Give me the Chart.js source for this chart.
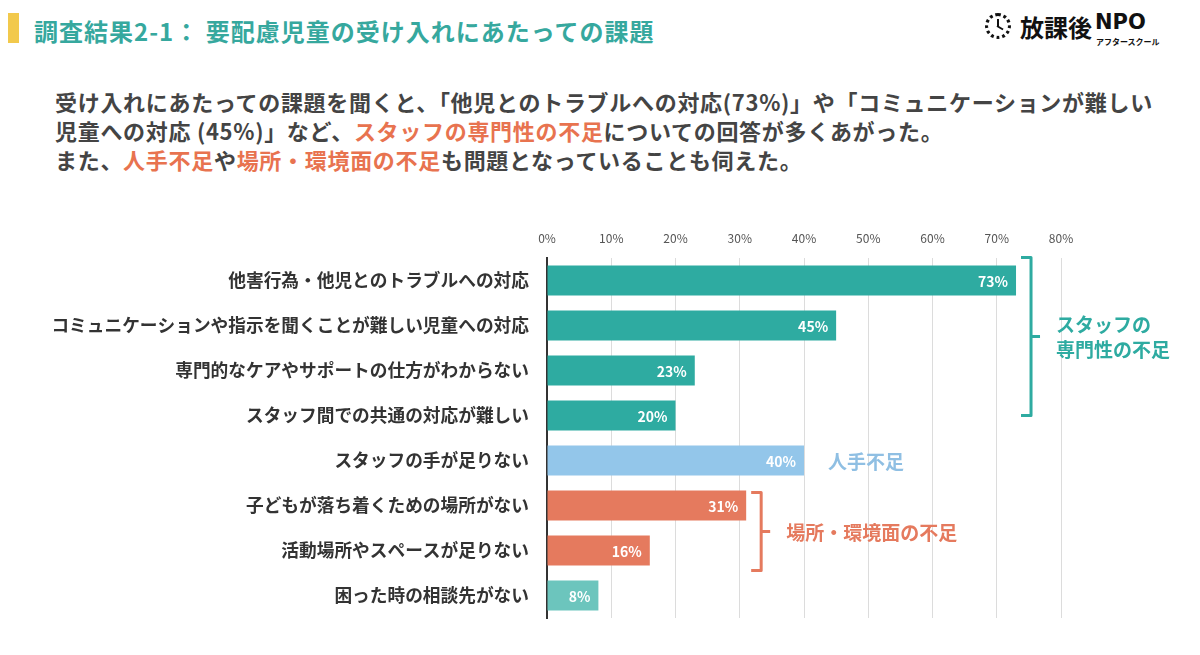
<!DOCTYPE html>
<html lang="ja">
<head>
<meta charset="utf-8">
<title>調査結果2-1</title>
<script src="https://cdn.jsdelivr.net/npm/chart.js@4.4.0/dist/chart.umd.min.js"></script>
<style>
  html, body { margin: 0; padding: 0; background: #fff; }
  body { width: 1200px; height: 655px; position: relative; overflow: hidden;
         font-family: "Noto Sans CJK JP", "Noto Sans", sans-serif; }
  .mark { position: absolute; left: 8px; top: 13px; width: 11px; height: 30px; background: #f2c94c; }
  .title { position: absolute; left: 34px; top: 14px; font-size: 24px; font-weight: bold;
           color: #36a89e; letter-spacing: 1px; line-height: 34px; white-space: nowrap; }
  .logo { position: absolute; left: 984px; top: 8px; height: 40px; color: #111; white-space: nowrap; }
  .logo .clock { position: absolute; left: 1px; top: 5px; width: 26px; height: 26px;
                 border: 3px dotted #111; border-radius: 50%; box-sizing: border-box; }
  .logo .hand1 { position: absolute; left: 13px; top: 11px; width: 2px; height: 8px; background: #111; }
  .logo .hand2 { position: absolute; left: 13px; top: 17px; width: 7px; height: 2px; background: #111; transform: rotate(30deg); transform-origin: left center; }
  .logo .kanji { position: absolute; left: 36px; top: 1px; font-size: 24px; font-weight: bold; }
  .logo .npo { position: absolute; left: 111px; top: 2px; font-size: 21px; font-weight: bold; font-family: "DejaVu Sans", sans-serif; }
  .logo .sub { position: absolute; left: 112px; top: 28px; font-size: 8px; font-weight: bold; }
  .lead { position: absolute; left: 55px; top: 87px; font-size: 22px; font-weight: bold;
          color: #444; line-height: 29px; white-space: nowrap; letter-spacing: 0.7px; }
  .lead .hl { color: #e8734f; }
  #wrap { position: absolute; left: 0; top: 220px; width: 1200px; height: 440px; }
</style>
</head>
<body>
<div class="mark"></div>
<div class="title">調査結果2-1： 要配慮児童の受け入れにあたっての課題</div>
<div class="logo">
  <div class="clock"></div>
  <div class="hand1"></div>
  <div class="hand2"></div>
  <div class="kanji">放課後</div>
  <div class="npo">NPO</div>
  <div class="sub">アフタースクール</div>
</div>
<div class="lead">
  受け入れにあたっての課題を聞くと、「他児とのトラブルへの対応(73%)」や「コミュニケーションが難しい<br>
  児童への対応 (45%)」など、<span class="hl">スタッフの専門性の不足</span>についての回答が多くあがった。<br>
  また、<span class="hl">人手不足</span>や<span class="hl">場所・環境面の不足</span>も問題となっていることも伺えた。
</div>
<div id="wrap"><canvas id="chart"></canvas></div>

<script>
// chart data
const categories = [
    '他害行為・他児とのトラブルへの対応',
    'コミュニケーションや指示を聞くことが難しい児童への対応',
    '専門的なケアやサポートの仕方がわからない',
    'スタッフ間での共通の対応が難しい',
    'スタッフの手が足りない',
    '子どもが落ち着くための場所がない',
    '活動場所やスペースが足りない',
    '困った時の相談先がない'
];
const values = [73, 45, 23, 20, 40, 31, 16, 8];
const tickValues = [0, 10, 20, 30, 40, 50, 60, 70, 80];

// group annotations: first/last bar index and label
const groupFirst = [0, 4, 5];
const groupLast = [3, 4, 6];
const groupLabels = [['スタッフの', '専門性の不足'], ['人手不足'], ['場所・環境面の不足']];

const TEAL = '#2eaba1';
const BLUE = '#93c6ea';
const ORANGE = '#e57a5e';
const LIGHT_TEAL = '#6cc5bd';
const barColors = [TEAL, TEAL, TEAL, TEAL, BLUE, ORANGE, ORANGE, LIGHT_TEAL];
const groupColors = [TEAL, '#8fbfe3', ORANGE];

const JP = '"Noto Sans CJK JP", "Noto Sans", sans-serif';

// value labels inside bar ends
const valueLabels = {
    id: 'valueLabels',
    afterDatasetsDraw(chart) {
        const ctx = chart.ctx;
        const meta = chart.getDatasetMeta(0);
        ctx.save();
        ctx.fillStyle = '#fff';
        ctx.font = 'bold 14px ' + JP;
        ctx.textAlign = 'right';
        ctx.textBaseline = 'middle';
        meta.data.forEach((bar, i) => {
            ctx.fillText(values[i] + '%', bar.x - 8, bar.y + 1);
        });
        ctx.restore();
    }
};

// brackets and group captions
const groupNotes = {
    id: 'groupNotes',
    afterDatasetsDraw(chart) {
        const ctx = chart.ctx;
        const xs = chart.scales.x;
        const ys = chart.scales.y;
        ctx.save();
        ctx.lineWidth = 3;
        ctx.lineJoin = 'round';
        ctx.font = 'bold 19px ' + JP;
        ctx.textBaseline = 'middle';
        ctx.textAlign = 'left';
        groupFirst.forEach((first, g) => {
            const last = groupLast[g];
            const color = groupColors[g];
            ctx.strokeStyle = color;
            ctx.fillStyle = color;
            const lead = xs.getPixelForValue(values[first]);
            let mid = ys.getPixelForValue(first);
            let textX = lead + 24;
            if (last > first) {
                const top = ys.getPixelForValue(first) - (g === 0 ? 23 : 13);
                const bottom = ys.getPixelForValue(last) + (g === 0 ? 0 : 20);
                const vx = lead + 15;
                mid = (top + bottom) / 2;
                ctx.beginPath();
                ctx.moveTo(lead + 5, top);
                ctx.lineTo(vx, top);
                ctx.lineTo(vx, bottom);
                ctx.lineTo(lead + 5, bottom);
                ctx.moveTo(vx, mid);
                ctx.lineTo(vx + 9, mid);
                ctx.stroke();
                textX = lead + 40;
            }
            const lines = groupLabels[g];
            lines.forEach((line, k) => {
                ctx.fillText(line, textX, mid + (k - (lines.length - 1) / 2) * 25 + 1);
            });
        });
        ctx.restore();
    }
};

new Chart(document.getElementById('chart'), {
    type: 'bar',
    data: {
        labels: categories,
        datasets: [{
            data: values,
            backgroundColor: barColors,
            barPercentage: 0.67,
            categoryPercentage: 1
        }]
    },
    options: {
        indexAxis: 'y',
        responsive: true,
        maintainAspectRatio: false,
        animation: false,
        layout: { padding: { left: 0, right: 139, top: 0, bottom: 42 } },
        plugins: {
            legend: { display: false },
            tooltip: { enabled: false }
        },
        scales: {
            x: {
                position: 'top',
                min: 0,
                max: 80,
                afterBuildTicks(scale) {
                    scale.ticks = tickValues.map(v => ({ value: v }));
                },
                afterFit(scale) { scale.height = 38; },
                ticks: {
                    callback: v => v + '%',
                    color: '#555',
                    font: { family: JP, size: 12 },
                    padding: 12
                },
                grid: { color: '#dcdcdc', lineWidth: 1, drawTicks: false },
                border: { display: false }
            },
            y: {
                afterFit(scale) { scale.width = 547; },
                ticks: {
                    color: '#333',
                    font: { family: JP, size: 17.7, weight: 'bold' },
                    padding: 18
                },
                grid: { display: false, drawTicks: false },
                border: { display: true, color: '#333', width: 2 }
            }
        }
    },
    plugins: [valueLabels, groupNotes]
});
</script>
</body>
</html>
